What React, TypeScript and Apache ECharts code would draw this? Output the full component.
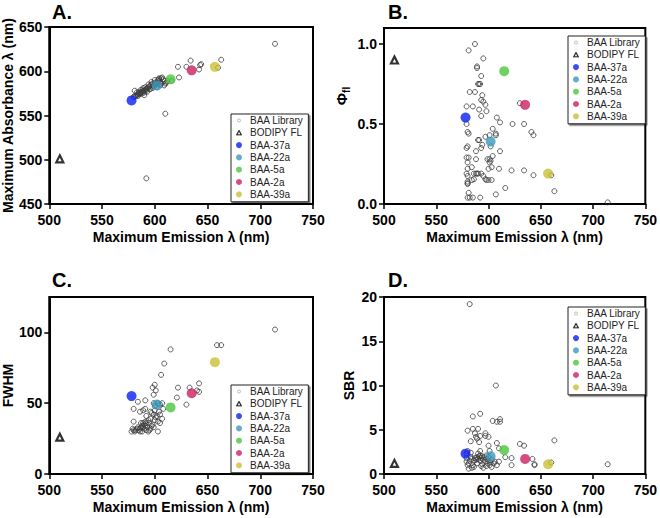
import React, { useEffect, useRef } from 'react';
import * as echarts from 'echarts';

// ---------- data ----------
const seriesNames = ['BAA Library', 'BODIPY FL', 'BAA-37a', 'BAA-22a', 'BAA-5a', 'BAA-2a', 'BAA-39a'];
const highlightNames = ['BAA-37a', 'BAA-22a', 'BAA-5a', 'BAA-2a', 'BAA-39a'];
const highlightColors = ['#0a1ff2', '#3b98b9', '#4cc63c', '#cc1f60', '#c9c034'];
const highlightEmission = [578, 602, 615, 635, 657];
const highlightAbsorbance = [567, 584, 591, 601, 605];
const highlightQY = [0.54, 0.39, 0.83, 0.62, 0.19];
const highlightFWHM = [55, 49, 47, 57, 79];
const highlightSBR = [2.3, 2.0, 2.7, 1.7, 1.1];

const bodipyEmission = 510;
const bodipyAbsorbance = 501;
const bodipyQY = 0.9;
const bodipyFWHM = 26;
const bodipySBR = 1.2;

const libraryAbsorbance = [
  [714, 631], [663, 613], [660, 604], [644, 608], [643, 607], [642, 602], [634, 612], [630, 605],
  [622, 605], [623, 593], [610, 552], [592, 479],
  [581, 578], [580, 571], [581, 572], [582, 572], [583, 573], [584, 574], [585, 575], [586, 575],
  [587, 576], [588, 577], [589, 578], [590, 578], [591, 579], [592, 580], [593, 581], [594, 582],
  [595, 583], [596, 584], [597, 585], [598, 586], [600, 587], [601, 586], [603, 590], [604, 589],
  [605, 588], [606, 592], [607, 593], [608, 591], [609, 589], [610, 586], [611, 587], [612, 589],
  [609, 584], [602, 582], [599, 583], [596, 580], [593, 577], [590, 576], [588, 575], [586, 574],
  [584, 572], [587, 579], [591, 582], [594, 585], [597, 588], [600, 590], [604, 592], [606, 586],
  [590, 573], [585, 577], [589, 581], [592, 578], [595, 580], [598, 581], [583, 576], [600, 584],
  [603, 586], [605, 584], [616, 589], [604, 591],
];

const libraryQY = [
  [587, 1.0], [581, 0.96], [595, 0.91], [589, 0.86], [589, 0.85], [593, 0.8], [590, 0.75], [591, 0.75],
  [592, 0.75], [582, 0.7], [587, 0.7], [594, 0.68], [593, 0.65], [595, 0.64], [597, 0.62], [579, 0.61],
  [585, 0.61], [591, 0.59], [598, 0.58], [593, 0.55], [608, 0.54], [611, 0.51], [623, 0.5], [634, 0.5],
  [630, 0.63], [641, 0.45], [643, 0.43], [579, 0.5], [580, 0.45], [581, 0.44], [604, 0.47], [607, 0.44],
  [607, 0.43], [597, 0.42], [601, 0.43], [591, 0.4], [594, 0.37], [593, 0.35], [580, 0.36], [579, 0.35],
  [588, 0.33], [611, 0.33], [604, 0.3], [601, 0.28], [602, 0.27], [599, 0.28], [601, 0.26], [579, 0.29],
  [581, 0.29], [588, 0.28], [584, 0.23], [603, 0.23], [600, 0.22], [610, 0.22], [622, 0.21], [634, 0.21],
  [580, 0.26], [580, 0.22], [579, 0.19], [580, 0.175], [586, 0.19], [588, 0.19], [589, 0.19], [590, 0.19],
  [593, 0.19], [595, 0.175], [597, 0.155], [598, 0.15], [603, 0.15], [584, 0.15], [586, 0.155], [580, 0.13],
  [580, 0.125], [616, 0.1], [607, 0.06], [581, 0.07], [580, 0.04], [582, 0.04], [585, 0.04], [592, 0.04],
  [643, 0.18], [660, 0.18], [663, 0.08], [714, 0.01], [580, 0.14], [602, 0.36], [590, 0.4], [600, 0.15],
];

const libraryFWHM = [
  [714, 102], [659, 91], [663, 91], [615, 88], [609, 78], [606, 70], [600, 63], [598, 61], [601, 59],
  [599, 56], [622, 61], [621, 54], [630, 49], [633, 61], [640, 59], [642, 64], [642, 58], [584, 51],
  [591, 52], [580, 46], [586, 44], [589, 45], [591, 46], [599, 50], [603, 50], [605, 49], [607, 50],
  [600, 45], [599, 42], [596, 39], [592, 41], [596, 44], [605, 42], [607, 39], [603, 37], [605, 36],
  [603, 30], [580, 37], [597, 34], [594, 30], [590, 32], [584, 33], [580, 31], [581, 30], [582, 31],
  [583, 32], [585, 31], [586, 32], [587, 33], [588, 34], [589, 33], [590, 35], [591, 34], [592, 36],
  [593, 33], [595, 36], [596, 32], [598, 35], [600, 38], [601, 40], [586, 30], [588, 30], [592, 31],
  [579, 32], [578, 30], [595, 31], [599, 33], [602, 41], [604, 44], [600, 48], [597, 43], [594, 38],
  [591, 37], [589, 36], [587, 36], [608, 46],
];

const librarySBR = [
  [582, 19.2], [607, 10.0], [592, 6.8], [585, 6.5], [604, 6.0], [608, 5.9], [611, 6.2], [611, 5.9],
  [580, 4.9], [585, 5.1], [590, 5.1], [587, 4.6], [588, 4.2], [589, 4.0], [597, 4.6], [597, 4.3],
  [592, 4.3], [600, 4.2], [583, 3.7], [591, 3.6], [608, 3.5], [610, 2.9], [600, 3.2], [630, 3.4],
  [634, 3.2], [663, 3.8], [616, 1.9], [622, 1.8], [642, 1.7], [622, 1.0], [644, 1.1], [644, 1.0],
  [660, 1.3], [714, 1.1], [580, 2.6], [583, 2.4], [592, 2.6], [592, 2.1], [601, 2.6], [603, 1.6],
  [606, 1.4], [581, 0.6], [584, 0.7], [586, 0.8], [595, 0.7], [603, 0.8], [579, 1.4], [579, 1.8],
  [581, 1.2], [582, 1.5], [584, 1.7], [586, 1.5], [587, 1.8], [588, 1.6], [589, 1.9], [590, 1.7],
  [591, 2.0], [592, 1.5], [593, 1.8], [594, 2.0], [595, 1.6], [596, 1.9], [597, 1.4], [598, 1.7],
  [599, 1.2], [600, 1.5], [601, 1.0], [598, 0.9], [594, 1.1], [589, 1.2], [585, 1.0], [590, 2.3],
  [598, 2.1], [605, 1.2], [608, 1.0], [602, 1.3], [583, 1.9], [580, 1.0], [600, 1.9], [593, 0.9],
  [610, 1.4], [579, 2.3],
];

// ---------- styling ----------
const FONT = '"Liberation Sans", Arial, Helvetica, sans-serif';

const grids = [
  { left: 48, top: 27, width: 265, height: 177 },
  { left: 384, top: 28, width: 265, height: 176 },
  { left: 48, top: 297, width: 265, height: 177 },
  { left: 384, top: 297, width: 265, height: 177 },
];

const legendPos = [
  { left: 231, top: 114 },
  { left: 568, top: 36 },
  { left: 231, top: 385 },
  { left: 568, top: 307 },
];

const panelLetters = ['A.', 'B.', 'C.', 'D.'];

const svgIcon = (inner: string) =>
  'image://data:image/svg+xml;charset=utf-8,' +
  encodeURIComponent(
    `<svg xmlns="http://www.w3.org/2000/svg" width="12" height="12" viewBox="0 0 12 12">${inner}</svg>`
  );

const libraryIcon = svgIcon('<circle cx="6" cy="6" r="3" fill="white" stroke="#8a8a8a" stroke-width="1.4"/>');
const bodipyIcon = svgIcon('<polygon points="6,1.5 10.6,10.2 1.4,10.2" fill="white" stroke="black" stroke-width="2.6" stroke-linejoin="miter"/>');

function App() {
  const ref = useRef<HTMLDivElement>(null);

  useEffect(() => {
    if (!ref.current) return;
    const chart = echarts.init(ref.current, undefined, { renderer: 'svg' });

    const libraries = [libraryAbsorbance, libraryQY, libraryFWHM, librarySBR];
    const hiY = [highlightAbsorbance, highlightQY, highlightFWHM, highlightSBR];
    const bodY = [bodipyAbsorbance, bodipyQY, bodipyFWHM, bodipySBR];

    const series: any[] = [];
    for (let p = 0; p < 4; p++) {
      series.push({
        type: 'scatter', name: seriesNames[0], xAxisIndex: p, yAxisIndex: p,
        symbol: 'circle', symbolSize: 5, silent: true,
        itemStyle: { color: 'rgba(255,255,255,0)', borderColor: '#3a3a3a', borderWidth: 1 },
        data: libraries[p],
      });
      series.push({
        type: 'scatter', name: seriesNames[1], xAxisIndex: p, yAxisIndex: p,
        symbol: 'triangle', symbolSize: 7, silent: true,
        itemStyle: { color: '#fff', borderColor: '#000', borderWidth: 2.2 },
        data: [[bodipyEmission, bodY[p]]],
      });
      highlightNames.forEach((n, i) => {
        series.push({
          type: 'scatter', name: n, xAxisIndex: p, yAxisIndex: p,
          symbol: 'circle', symbolSize: 10, silent: true,
          itemStyle: { color: highlightColors[i] },
          data: [[highlightEmission[i], hiY[p][i]]],
        });
      });
    }

    const axisCommon = {
      axisLine: { show: true, onZero: false, lineStyle: { color: '#000', width: 2 } },
      axisTick: { show: true, length: 5, lineStyle: { color: '#000', width: 1.5 } },
      axisLabel: { color: '#000', fontSize: 14, fontWeight: 'bold', fontFamily: FONT },
      splitLine: { show: false },
      nameTextStyle: { color: '#000', fontSize: 14, fontWeight: 'bold', fontFamily: FONT },
    };

    const xAxis = grids.map((_, p) => ({
      type: 'value', gridIndex: p, min: 500, max: 750, interval: 50,
      name: 'Maximum Emission λ (nm)', nameLocation: 'middle', nameGap: 26,
      ...axisCommon,
      axisLabel: { ...axisCommon.axisLabel, margin: 9 },
    }));

    const yAxis = [
      {
        type: 'value', gridIndex: 0, min: 450, max: 650, interval: 50,
        name: 'Maximum Absorbance λ (nm)', nameLocation: 'middle', nameGap: 33,
        ...axisCommon,
        axisLabel: { ...axisCommon.axisLabel, margin: 7 },
      },
      {
        type: 'value', gridIndex: 1, min: 0, max: 1.1, interval: 0.5,
        name: '{p|Φ}{s|fl}', nameLocation: 'middle', nameGap: 33,
        ...axisCommon,
        nameTextStyle: {
          ...axisCommon.nameTextStyle,
          padding: [0, 0, 0, 40],
          rich: {
            p: { fontSize: 15, fontWeight: 'bold', fontFamily: FONT, color: '#000', lineHeight: 20 },
            s: { fontSize: 10, fontWeight: 'bold', fontFamily: FONT, color: '#000', lineHeight: 10, verticalAlign: 'bottom' },
          },
        },
        axisTick: { ...axisCommon.axisTick, customValues: [0, 0.5, 1.0] },
        axisLabel: {
          ...axisCommon.axisLabel, margin: 7, customValues: [0, 0.5, 1.0],
          formatter: (v: number) => v.toFixed(1),
        },
      },
      {
        type: 'value', gridIndex: 2, min: 0, max: 125, interval: 50,
        name: 'FWHM', nameLocation: 'middle', nameGap: 33,
        ...axisCommon,
        axisTick: { ...axisCommon.axisTick, customValues: [0, 50, 100] },
        axisLabel: { ...axisCommon.axisLabel, margin: 7, customValues: [0, 50, 100] },
      },
      {
        type: 'value', gridIndex: 3, min: 0, max: 20, interval: 5,
        name: 'SBR', nameLocation: 'middle', nameGap: 28,
        ...axisCommon,
        axisLabel: { ...axisCommon.axisLabel, margin: 7 },
      },
    ];

    const legendData = [
      { name: seriesNames[0], icon: libraryIcon },
      { name: seriesNames[1], icon: bodipyIcon },
      ...highlightNames.map((n, i) => ({ name: n, icon: 'circle', itemStyle: { color: highlightColors[i], borderWidth: 0 } })),
    ];

    const legend = legendPos.map((pos) => ({
      ...pos,
      orient: 'vertical',
      data: legendData,
      itemWidth: 6,
      itemHeight: 6,
      itemGap: 1.3,
      padding: [1, 5, 2, 5],
      borderColor: '#222',
      borderWidth: 1,
      backgroundColor: '#fff',
      shadowColor: 'rgba(0,0,0,0.55)',
      shadowOffsetX: 1.5,
      shadowOffsetY: 1.5,
      shadowBlur: 0,
      selectedMode: false,
      textStyle: { fontSize: 10, lineHeight: 11, color: '#222', fontFamily: FONT, padding: [0, 0, 0, 3] },
    }));

    const title = panelLetters.map((t, p) => ({
      text: t,
      left: p % 2 === 0 ? 52 : 388,
      top: p < 2 ? 2 : 270,
      padding: 0,
      textStyle: { fontSize: 20, fontWeight: 'bold', color: '#000', fontFamily: FONT },
    }));

    chart.setOption({
      animation: false,
      backgroundColor: '#fff',
      textStyle: { fontFamily: FONT },
      title,
      legend,
      grid: grids.map((g) => ({ ...g, show: true, borderColor: '#000', borderWidth: 2, backgroundColor: 'transparent' })),
      xAxis,
      yAxis,
      series,
    });

    return () => chart.dispose();
  }, []);

  return (
    <div
      ref={ref}
      style={{ position: 'fixed', left: 0, top: 0, width: 660, height: 518, background: '#fff' }}
    />
  );
}

export default App;
